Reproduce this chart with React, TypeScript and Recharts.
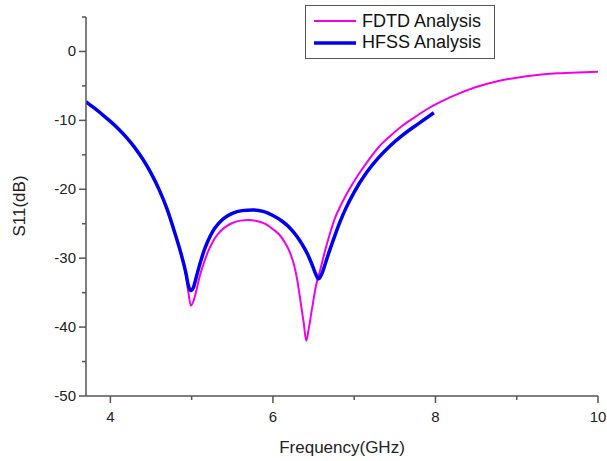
import { LineChart, Line, XAxis, YAxis, Legend, Label } from "recharts";

// FDTD Analysis: frequency (GHz) / S11 (dB)
const fdtdFreq = [
  3.7, 3.8, 3.9, 4.0, 4.1, 4.2, 4.3, 4.4, 4.5, 4.6, 4.7, 4.8, 4.88, 4.93, 4.96, 4.99, 5.02,
  5.06, 5.1, 5.15, 5.2, 5.26, 5.33, 5.4, 5.5, 5.6, 5.7, 5.8, 5.9, 6.0, 6.08, 6.15, 6.21, 6.26,
  6.3, 6.34, 6.38, 6.41, 6.44, 6.48, 6.53, 6.58, 6.64, 6.7, 6.76, 6.84, 6.94, 7.05, 7.15, 7.3,
  7.45, 7.6, 7.75, 7.9, 8.1, 8.3, 8.5, 8.75, 9.0, 9.25, 9.5, 9.75, 10.0,
];
const fdtdS11 = [
  -7.3, -8.2, -9.15, -10.15, -11.25, -12.5, -13.95, -15.65, -17.65, -20.05, -22.95, -26.7,
  -30.0, -32.5, -35.0, -36.9, -36.3, -34.6, -32.6, -30.7, -29.1, -27.6, -26.4, -25.6, -24.9,
  -24.55, -24.45, -24.6, -25.0, -25.8, -26.6, -27.8, -29.2, -31.0, -33.2, -36.3, -39.5, -42.0,
  -40.3, -37.4, -34.0, -31.8, -29.0, -26.5, -24.3, -22.2, -20.0, -17.9, -16.2, -13.9, -12.2,
  -10.7, -9.5, -8.35, -7.1, -6.05, -5.15, -4.35, -3.8, -3.42, -3.18, -3.04, -2.95,
];

// HFSS Analysis
const hfssFreq = [
  3.7, 3.8, 3.9, 4.0, 4.1, 4.2, 4.3, 4.4, 4.5, 4.6, 4.7, 4.8, 4.88, 4.93, 4.96, 4.99, 5.02,
  5.06, 5.1, 5.15, 5.2, 5.26, 5.33, 5.4, 5.5, 5.62, 5.75, 5.88, 6.0, 6.11, 6.2, 6.28, 6.36,
  6.43, 6.49, 6.53, 6.56, 6.6, 6.65, 6.7, 6.76, 6.83, 6.9, 7.0, 7.15, 7.3, 7.45, 7.6, 7.8, 7.98,
];
const hfssS11 = [
  -7.3, -8.2, -9.15, -10.15, -11.25, -12.5, -13.95, -15.65, -17.65, -20.05, -22.95, -26.6,
  -29.8, -32.2, -34.0, -34.7, -34.3, -32.6, -30.9, -29.0, -27.5, -26.1, -25.0, -24.2, -23.5,
  -23.1, -23.0, -23.2, -23.8, -24.6, -25.5, -26.6, -28.0, -29.5, -31.2, -32.4, -33.0, -32.3,
  -30.6, -28.8, -26.8, -24.6, -22.7, -20.4, -17.6, -15.4, -13.6, -12.1, -10.4, -8.9,
];

const xTicks = [4, 5, 6, 7, 8, 9, 10];
const yTicks = [-50, -45, -40, -35, -30, -25, -20, -15, -10, -5, 0, 5];

const fdtdData = fdtdFreq.map((f, i) => ({ f, s11: fdtdS11[i] }));
const hfssData = hfssFreq.map((f, i) => ({ f, s11: hfssS11[i] }));

const AXIS = "#555";
const FONT = "'Liberation Sans', Arial, sans-serif";

function XTick({ x, y, payload }: any) {
  const major = payload.value % 2 === 0;
  return (
    <g>
      <line x1={x} x2={x} y1={y} y2={y + (major ? 7 : 4)} stroke={AXIS} strokeWidth={1.5} />
      {major && (
        <text x={x} y={y + 26} textAnchor="middle" fontSize={15} fill="#222">
          {payload.value}
        </text>
      )}
    </g>
  );
}

function YTick({ x, y, payload }: any) {
  const major = payload.value % 10 === 0;
  return (
    <g>
      <line x1={x - (major ? 7 : 4)} x2={x} y1={y} y2={y} stroke={AXIS} strokeWidth={1.5} />
      {major && (
        <text x={x - 10} y={y + 5} textAnchor="end" fontSize={15} fill="#222">
          {payload.value}
        </text>
      )}
    </g>
  );
}

function LegendBox({ payload }: any) {
  return (
    <div
      style={{
        position: "relative",
        width: 190,
        height: 54,
        boxSizing: "border-box",
        border: `1.5px solid ${AXIS}`,
        background: "#fff",
        fontFamily: FONT,
        fontSize: 18,
        color: "#111",
      }}
    >
      {(payload || []).map((entry: any, i: number) => (
        <div
          key={entry.value}
          style={{ position: "absolute", left: 8, top: 4 + i * 21.5, height: 22, display: "flex", alignItems: "center" }}
        >
          <svg width={42} height={8} style={{ marginRight: 6 }}>
            <line x1={0} x2={42} y1={4} y2={4} stroke={entry.color} strokeWidth={i === 0 ? 2 : 3.5} />
          </svg>
          <span>{entry.value}</span>
        </div>
      ))}
    </div>
  );
}

export default function App() {
  return (
    <div style={{ position: "absolute", left: 0, top: 0, background: "#fff" }}>
      <LineChart
        width={607}
        height={461}
        margin={{ top: 17, right: 9, left: 26, bottom: 0 }}
        style={{ fontFamily: FONT }}
      >
        <XAxis
          dataKey="f"
          type="number"
          domain={[3.7, 10]}
          ticks={xTicks}
          height={65}
          tickSize={0}
          tickMargin={0}
          tickLine={false}
          tick={<XTick />}
          axisLine={{ stroke: AXIS, strokeWidth: 1.5 }}
          allowDataOverflow
        >
          <Label
            content={() => (
              <text x={342} y={453} textAnchor="middle" fontSize={17} fill="#222" fontFamily={FONT}>
                Frequency(GHz)
              </text>
            )}
          />
        </XAxis>
        <YAxis
          type="number"
          domain={[-50, 5]}
          ticks={yTicks}
          width={60}
          tickSize={0}
          tickMargin={0}
          tickLine={false}
          tick={<YTick />}
          axisLine={{ stroke: AXIS, strokeWidth: 1.5 }}
          allowDataOverflow
        >
          <Label
            content={() => (
              <text
                x={25}
                y={206}
                transform="rotate(-90 25 206)"
                textAnchor="middle"
                fontSize={17}
                fill="#222"
                fontFamily={FONT}
              >
                S11(dB)
              </text>
            )}
          />
        </YAxis>
        <Legend
          layout="horizontal"
          verticalAlign="middle"
          align="center"
          wrapperStyle={{ left: 305, top: 5, width: 190, height: 54 }}
          content={<LegendBox />}
        />
        <Line
          data={fdtdData}
          dataKey="s11"
          name="FDTD Analysis"
          type="monotone"
          stroke="#f000f0"
          strokeWidth={2}
          dot={false}
          isAnimationActive={false}
        />
        <Line
          data={hfssData}
          dataKey="s11"
          name="HFSS Analysis"
          type="monotone"
          stroke="#0000f0"
          strokeWidth={3.5}
          dot={false}
          isAnimationActive={false}
        />
      </LineChart>
    </div>
  );
}
